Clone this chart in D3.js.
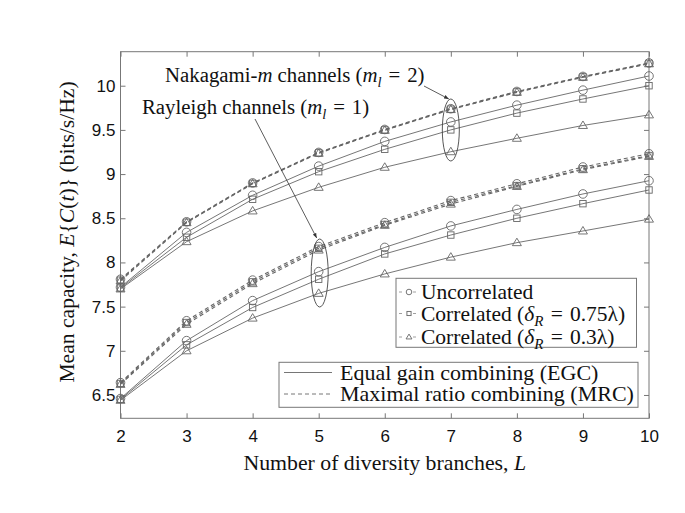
<!DOCTYPE html>
<html><head><meta charset="utf-8">
<script src="https://cdn.jsdelivr.net/npm/d3@7"></script>
<style>
body{margin:0;background:#fff;}
svg{display:block;}
</style></head>
<body>
<svg id="chart" width="685" height="513"></svg>
<script>
const branches = [2,3,4,5,6,7,8,9,10];
const xTicks = [2,3,4,5,6,7,8,9,10];
const yTicks = [6.5,7,7.5,8,8.5,9,9.5,10];

// Nakagami-m (m_l = 2)
const nakEgcUnc = [7.72, 8.34, 8.76, 9.09, 9.37, 9.59, 9.78, 9.95, 10.11];
const nakEgcC75 = [7.71, 8.285, 8.715, 9.027, 9.28, 9.50, 9.69, 9.85, 10.0];
const nakEgcC30 = [7.70, 8.235, 8.583, 8.85, 9.077, 9.253, 9.405, 9.55, 9.67];
const nakMrcUnc = [7.81, 8.46, 8.90, 9.245, 9.505, 9.74, 9.935, 10.105, 10.258];
const nakMrcC75 = [7.80, 8.455, 8.895, 9.24, 9.50, 9.735, 9.93, 10.10, 10.253];
const nakMrcC30 = [7.79, 8.45, 8.89, 9.235, 9.495, 9.73, 9.925, 10.095, 10.248];
// Rayleigh (m_l = 1)
const rayEgcUnc = [6.46, 7.115, 7.568, 7.896, 8.17, 8.413, 8.60, 8.775, 8.925];
const rayEgcC75 = [6.45, 7.067, 7.49, 7.81, 8.096, 8.31, 8.50, 8.665, 8.82];
const rayEgcC30 = [6.44, 7.0, 7.37, 7.65, 7.87, 8.06, 8.224, 8.356, 8.49];
const rayMrcUnc = [6.64, 7.34, 7.80, 8.18, 8.45, 8.70, 8.89, 9.08, 9.23];
const rayMrcC75 = [6.63, 7.32, 7.78, 8.16, 8.43, 8.68, 8.87, 9.06, 9.21];
const rayMrcC30 = [6.62, 7.30, 7.76, 8.14, 8.42, 8.66, 8.86, 9.05, 9.20];

const series = [
  {v: nakEgcUnc, m:"circle", dash:false},
  {v: nakEgcC75, m:"square", dash:false},
  {v: nakEgcC30, m:"triangle", dash:false},
  {v: nakMrcUnc, m:"circle", dash:true},
  {v: nakMrcC75, m:"square", dash:true},
  {v: nakMrcC30, m:"triangle", dash:true},
  {v: rayEgcUnc, m:"circle", dash:false},
  {v: rayEgcC75, m:"square", dash:false},
  {v: rayEgcC30, m:"triangle", dash:false},
  {v: rayMrcUnc, m:"circle", dash:true},
  {v: rayMrcC75, m:"square", dash:true},
  {v: rayMrcC30, m:"triangle", dash:true}
];

const svg = d3.select("#chart");
const pLeft = 120.5, pRight = 649, pTop = 51.7, pBottom = 418.3;
const x = d3.scaleLinear().domain([2,10]).range([pLeft,pRight]);
const y = d3.scaleLinear().domain([6.236,10.385]).range([pBottom,pTop]);

const axisColor = "#777";
const lineColor = "#666";
const serif = "'Liberation Serif', 'Times New Roman', serif";
const sans = "'Liberation Sans', Arial, sans-serif";
const EQ = "\u2004=\u2004";

// axes
const gx = svg.append("g").attr("transform",`translate(0,${pBottom})`)
  .call(d3.axisBottom(x).tickValues(xTicks).tickSize(-5).tickPadding(12).tickFormat(d3.format("d")));
const gxt = svg.append("g").attr("transform",`translate(0,${pTop})`)
  .call(d3.axisTop(x).tickValues(xTicks).tickSize(-5).tickFormat(""));
const gy = svg.append("g").attr("transform",`translate(${pLeft},0)`)
  .call(d3.axisLeft(y).tickValues(yTicks).tickSize(-5).tickPadding(5).tickFormat(d=>String(d)));
const gyr = svg.append("g").attr("transform",`translate(${pRight},0)`)
  .call(d3.axisRight(y).tickValues(yTicks).tickSize(-5).tickFormat(""));
[gx,gxt,gy,gyr].forEach(g=>{
  g.select(".domain").remove();
  g.selectAll(".tick line").attr("stroke",axisColor);
  g.selectAll(".tick text").attr("font-family",sans).attr("font-size",17).attr("fill","#111");
});
svg.append("rect").attr("x",pLeft).attr("y",pTop).attr("width",pRight-pLeft).attr("height",pBottom-pTop)
  .attr("fill","none").attr("stroke",axisColor).attr("stroke-width",1);

// lines
const line = d3.line().x((d,i)=>x(branches[i])).y(d=>y(d));
series.forEach(s=>{
  svg.append("path").datum(s.v).attr("d",line).attr("fill","none")
    .attr("stroke", s.dash ? "#666" : lineColor)
    .attr("stroke-width", s.dash ? 1.1 : 0.9)
    .attr("stroke-dasharray", s.dash ? "4,3" : null);
});

function marker(g, type, cx, cy, scale){
  scale = scale||1;
  if(type==="circle"){
    g.append("circle").attr("cx",cx).attr("cy",cy).attr("r",4.3*scale)
      .attr("fill","none").attr("stroke",lineColor).attr("stroke-width",0.9);
  } else if(type==="square"){
    const s=6.4*scale;
    g.append("rect").attr("x",cx-s/2).attr("y",cy-s/2).attr("width",s).attr("height",s)
      .attr("fill","none").attr("stroke",lineColor).attr("stroke-width",0.9);
  } else {
    const h=7.5*scale, w=9*scale;
    g.append("path").attr("d",`M${cx},${cy-h*0.6}L${cx+w/2},${cy+h*0.4}L${cx-w/2},${cy+h*0.4}Z`)
      .attr("fill","none").attr("stroke",lineColor).attr("stroke-width",0.9);
  }
}
const mg = svg.append("g");
series.forEach(s=>{
  s.v.forEach((d,i)=>marker(mg, s.m, x(branches[i]), y(d)));
});

// ellipses and arrows
svg.append("defs").append("marker").attr("id","ah").attr("viewBox","0 0 10 10")
  .attr("refX",10).attr("refY",5).attr("markerWidth",6).attr("markerHeight",6).attr("orient","auto")
  .append("path").attr("d","M0,1L10,5L0,9Z").attr("fill","#333");
svg.append("ellipse").attr("cx",x(7)).attr("cy",130).attr("rx",8.5).attr("ry",31)
  .attr("fill","none").attr("stroke","#444").attr("stroke-width",0.9);
svg.append("ellipse").attr("cx",x(5)+1).attr("cy",273).attr("rx",8.5).attr("ry",34)
  .attr("fill","none").attr("stroke","#444").attr("stroke-width",0.9);
svg.append("line").attr("x1",424).attr("y1",86).attr("x2",x(7)-2).attr("y2",99)
  .attr("stroke","#333").attr("stroke-width",0.8).attr("marker-end","url(#ah)");
svg.append("line").attr("x1",255).attr("y1",119).attr("x2",x(5)-2).attr("y2",238)
  .attr("stroke","#333").attr("stroke-width",0.8).attr("marker-end","url(#ah)");

function mathText(g, xx, yy, parts, size, anchor){
  const t = g.append("text").attr("x",xx).attr("y",yy).attr("font-family",serif)
    .attr("font-size",size).attr("fill","#111").attr("text-anchor",anchor||"start");
  parts.forEach(p=>{
    const ts = t.append("tspan").text(p.t);
    if(p.i) ts.attr("font-style","italic");
    if(p.sub){ ts.attr("font-size",size*0.7).attr("dy",size*0.25); }
    if(p.up){ ts.attr("dy",-size*0.25); }
  });
  return t;
}
mathText(svg, 165, 82, [{t:"Nakagami-"},{t:"m",i:1},{t:" channels ("},{t:"m",i:1},{t:"l",i:1,sub:1},{t:EQ+"2)",up:1}], 20.8);
mathText(svg, 142, 114, [{t:"Rayleigh channels ("},{t:"m",i:1},{t:"l",i:1,sub:1},{t:EQ+"1)",up:1}], 20.8);

// axis labels
mathText(svg, (pLeft+pRight)/2, 470, [{t:"Number of diversity branches, "},{t:"L",i:1}], 21.8, "middle");
const yl = svg.append("g").attr("transform",`translate(74,${(pTop+pBottom)/2 - 3}) rotate(-90)`);
mathText(yl, 0, 0, [{t:"Mean capacity, "},{t:"E",i:1},{t:"{"},{t:"C",i:1},{t:"("},{t:"t",i:1},{t:")} (bits/s/Hz)"}], 21.6, "middle");

// legend 1 (markers)
const leg1 = svg.append("g");
leg1.append("rect").attr("x",396).attr("y",278.3).attr("width",240.5).attr("height",69)
  .attr("fill","#fff").attr("stroke",axisColor).attr("stroke-width",1);
const leg1Items = [
  {m:"circle", parts:[{t:"Uncorrelated"}], yy:292},
  {m:"square", parts:[{t:"Correlated ("},{t:"δ",i:1},{t:"R",i:1,sub:1},{t:EQ+"0.75λ)",up:1}], yy:313.5},
  {m:"triangle", parts:[{t:"Correlated ("},{t:"δ",i:1},{t:"R",i:1,sub:1},{t:EQ+"0.3λ)",up:1}], yy:337}
];
leg1Items.forEach(it=>{
  leg1.append("line").attr("x1",399).attr("x2",419).attr("y1",it.yy).attr("y2",it.yy)
    .attr("stroke","#888").attr("stroke-width",0.8).attr("stroke-dasharray","3,4");
  leg1.append("rect").attr("x",405).attr("y",it.yy-4).attr("width",8).attr("height",8).attr("fill","#fff");
  marker(leg1, it.m, 409, it.yy, 0.65);
  mathText(leg1, 421, it.yy+7, it.parts, 21.5);
});

// legend 2 (line styles)
const leg2 = svg.append("g");
leg2.append("rect").attr("x",279).attr("y",362.3).attr("width",359).attr("height",45)
  .attr("fill","#fff").attr("stroke",axisColor).attr("stroke-width",1);
leg2.append("line").attr("x1",284).attr("x2",332).attr("y1",372.5).attr("y2",372.5)
  .attr("stroke",lineColor).attr("stroke-width",0.9);
leg2.append("line").attr("x1",284).attr("x2",332).attr("y1",394).attr("y2",394)
  .attr("stroke",lineColor).attr("stroke-width",0.9).attr("stroke-dasharray","4,3");
mathText(leg2, 340, 379.5, [{t:"Equal gain combining (EGC)"}], 22);
mathText(leg2, 340, 401, [{t:"Maximal ratio combining (MRC)"}], 22);
</script>
</body></html>
